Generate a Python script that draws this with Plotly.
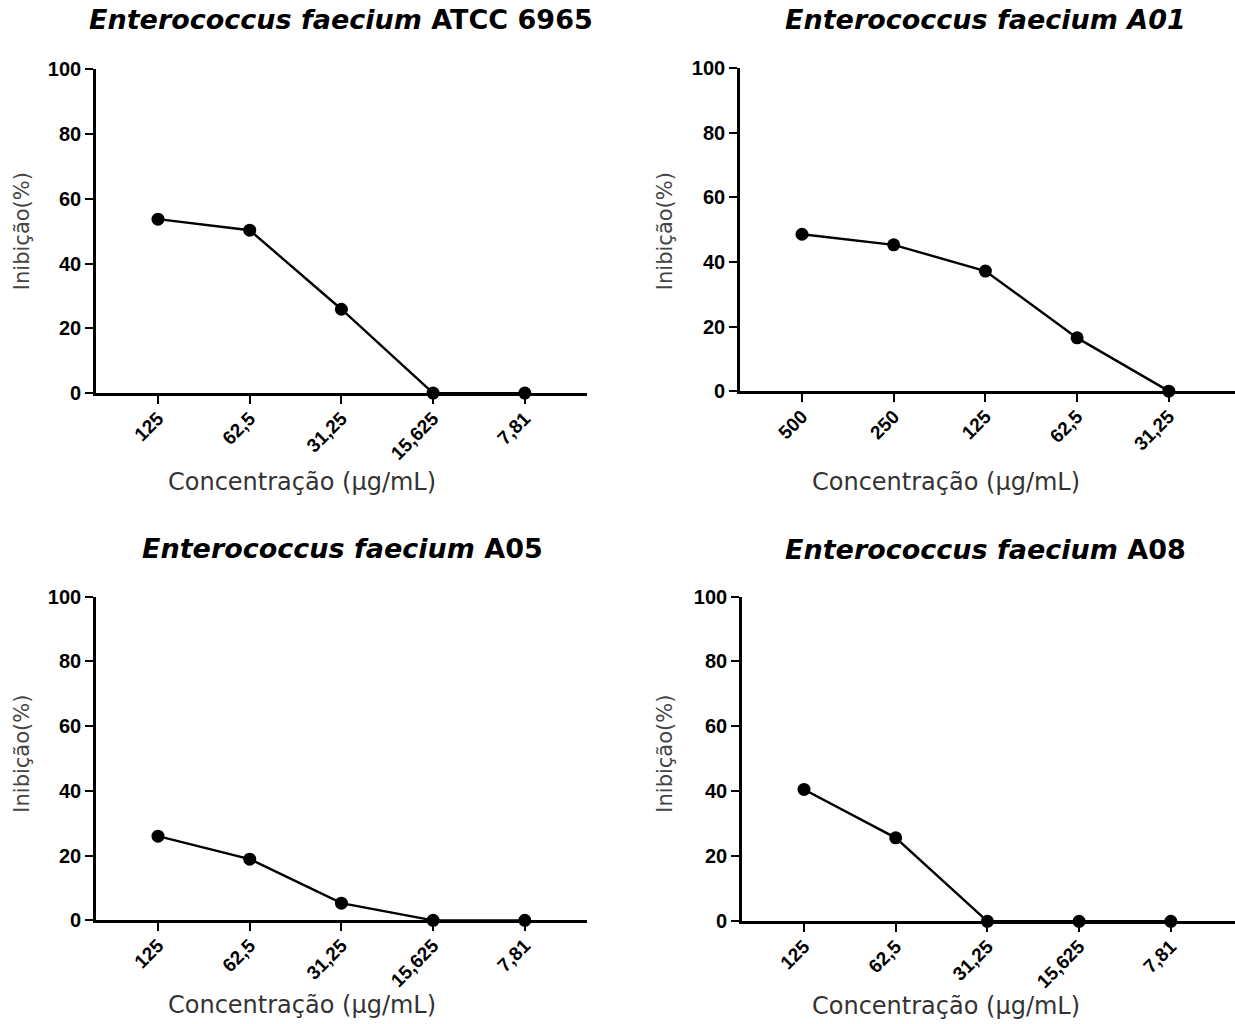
import plotly.graph_objects as go

# ---- data ----
titles = [
    "<b><i>Enterococcus faecium</i> ATCC 6965</b>",
    "<b><i>Enterococcus faecium A01</i></b>",
    "<b><i>Enterococcus faecium</i> A05</b>",
    "<b><i>Enterococcus faecium</i> A08</b>",
]
conc_atcc = ["125", "62,5", "31,25", "15,625", "7,81"]
inib_atcc = [53.7, 50.3, 25.9, 0, 0]
conc_a01 = ["500", "250", "125", "62,5", "31,25"]
inib_a01 = [48.6, 45.3, 37.2, 16.5, 0]
conc_a05 = ["125", "62,5", "31,25", "15,625", "7,81"]
inib_a05 = [26.0, 18.9, 5.3, 0, 0]
conc_a08 = ["125", "62,5", "31,25", "15,625", "7,81"]
inib_a08 = [40.6, 25.7, 0, 0, 0]
y_ticks = [0, 20, 40, 60, 80, 100]
x_title = "Concentração (μg/mL)"
y_title = "Inibição(%)"

W, H = 1235, 1024
FONT = "'DejaVu Sans', Arial, sans-serif"
TICKFONT = "Arial, 'Liberation Sans', sans-serif"

panels = [
    (conc_atcc, inib_atcc, (96, 587), (59.5, 390.5)),
    (conc_a01, inib_a01, (740, 1235), (58.5, 388.5)),
    (conc_a05, inib_a05, (96, 587), (598.4, 929.3)),
    (conc_a08, inib_a08, (742, 1235), (598.4, 930.3)),
]
title_pos = [(341, 9), (985, 9), (342, 549.5), (985, 550)]
xt_pos = [(302, 481), (946, 481), (302, 1016), (946, 1017)]
yt_pos = [(22, 225), (665, 225), (22, 759), (665, 759)]

fig = go.Figure()
annotations = []
for i, (cats, vals, (x0, x1), (ytop, ybot)) in enumerate(panels):
    n = i + 1
    xa = "x" if n == 1 else f"x{n}"
    ya = "y" if n == 1 else f"y{n}"
    fig.add_trace(go.Scatter(
        x=list(range(len(cats))), y=vals, xaxis=xa, yaxis=ya,
        mode="lines+markers", cliponaxis=False,
        line=dict(color="black", width=2.4),
        marker=dict(color="black", size=13),
        showlegend=False,
    ))
    spacing = 91.7
    first = x0 + 62
    left = (x0 - first) / spacing
    right = (x1 - first) / spacing
    xkey = "xaxis" if n == 1 else f"xaxis{n}"
    ykey = "yaxis" if n == 1 else f"yaxis{n}"
    fig.update_layout(**{
        xkey: dict(
            domain=[x0 / W, x1 / W], anchor=ya, range=[left, right],
            tickmode="array", tickvals=list(range(len(cats))), ticktext=cats,
            tickangle=-45, ticks="outside", ticklen=8, tickwidth=2.4,
            ticklabelstandoff=-4,
            tickcolor="black", showline=True, linecolor="black", linewidth=2.6,
            showgrid=False, zeroline=False,
            tickfont=dict(family=TICKFONT, size=19, color="black", weight="bold"),
        ),
        ykey: dict(
            domain=[1 - ybot / H, 1 - ytop / H], anchor=xa, range=[0, 100],
            tickvals=y_ticks, ticks="outside", ticklen=8, tickwidth=2.4,
            tickcolor="black", showline=True, linecolor="black", linewidth=2.6,
            showgrid=False, zeroline=False,
            tickfont=dict(family=TICKFONT, size=20, color="black", weight="bold"),
        ),
    })
    tx, ty = title_pos[i]
    annotations.append(dict(text=titles[i], x=tx / W, y=1 - ty / H, xref="paper", yref="paper",
                            showarrow=False, xanchor="center", yanchor="middle",
                            font=dict(family=FONT, size=27, color="black")))
    ax_, ay_ = xt_pos[i]
    annotations.append(dict(text=x_title, x=ax_ / W, y=1 - ay_ / H, xref="paper", yref="paper",
                            showarrow=False, xanchor="center", yanchor="middle",
                            font=dict(family=FONT, size=24, color="#333333")))
    bx, by = yt_pos[i]
    annotations.append(dict(text=y_title, x=bx / W, y=1 - by / H, xref="paper", yref="paper",
                            showarrow=False, xanchor="center", yanchor="middle", textangle=-90,
                            font=dict(family=FONT, size=21, color="#444444")))

fig.update_layout(
    width=W, height=H, margin=dict(l=0, r=0, t=0, b=0),
    paper_bgcolor="white", plot_bgcolor="white",
    annotations=annotations,
)
fig.write_html("out.html")
